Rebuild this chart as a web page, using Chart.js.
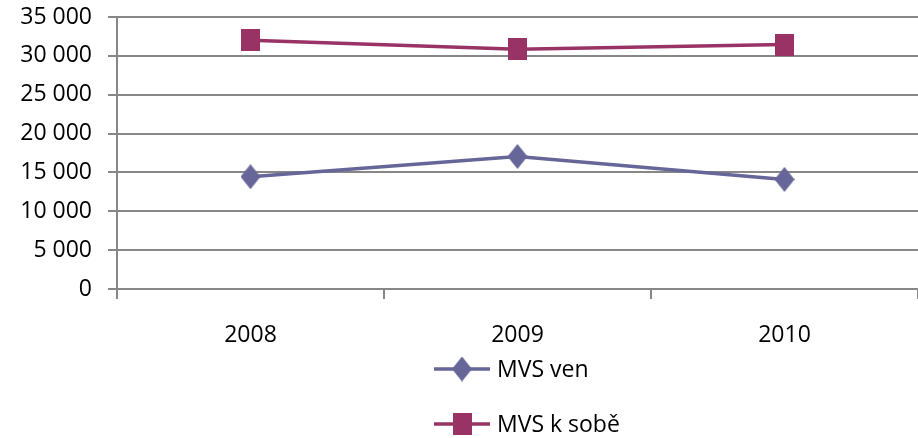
<!DOCTYPE html>
<html lang="cs">

<head>
    <meta charset="UTF-8">
    <title>MVS ven / MVS k sobě</title>
    <script src="https://cdn.jsdelivr.net/npm/chart.js"></script>
    <style>
        html, body { margin: 0; padding: 0; background: #fff; overflow: hidden; }
        .chart-box { width: 918px; height: 438px; }
    </style>
</head>

<body>
    <div class="chart-box"><canvas id="chart"></canvas></div>

    <script>
        // data
        const years = ['2008', '2009', '2010'];
        const mvsVen = [14450, 17050, 14100];
        const mvsKSobe = [32000, 30850, 31450];
        const yTicks = [0, 5000, 10000, 15000, 20000, 25000, 30000, 35000];

        const FONT = '"Open Sans", "Liberation Sans", sans-serif';
        const GRID = '#878787';

        // marker images (diamond is a bit taller than wide, like in Excel)
        function marker(kind, color, w, h) {
            const c = document.createElement('canvas');
            c.width = w; c.height = h;
            const g = c.getContext('2d');
            g.fillStyle = color;
            g.beginPath();
            if (kind === 'diamond') {
                g.moveTo(w / 2, 0); g.lineTo(w, h / 2); g.lineTo(w / 2, h); g.lineTo(0, h / 2);
            } else {
                g.rect(0, 0, w, h);
            }
            g.closePath();
            g.fill();
            return c;
        }
        const diamond = marker('diamond', '#666699', 20, 25);
        const square = marker('square', '#993366', 19, 22);

        // vertical legend under the axis
        const sideLegend = {
            id: 'sideLegend',
            afterDraw(chart) {
                const ctx = chart.ctx;
                const x0 = 434, x1 = 490;
                const rows = [369, 424];
                ctx.save();
                chart.data.datasets.forEach((ds, i) => {
                    const y = rows[i];
                    ctx.strokeStyle = ds.borderColor;
                    ctx.lineWidth = 3.5;
                    ctx.beginPath();
                    ctx.moveTo(x0, y);
                    ctx.lineTo(x1, y);
                    ctx.stroke();
                    const img = ds.pointStyle;
                    ctx.drawImage(img, (x0 + x1) / 2 - img.width / 2, y - img.height / 2);
                    ctx.fillStyle = '#000';
                    ctx.font = '23px ' + FONT;
                    ctx.textAlign = 'left';
                    ctx.textBaseline = 'middle';
                    ctx.fillText(ds.label, x1 + 7, y + 1);
                });
                ctx.restore();
            }
        };

        new Chart(document.getElementById('chart'), {
            type: 'line',
            data: {
                labels: years,
                datasets: [{
                    label: 'MVS ven',
                    data: mvsVen,
                    borderColor: '#666699',
                    backgroundColor: '#666699',
                    borderWidth: 3.5,
                    pointStyle: diamond,
                    tension: 0
                }, {
                    label: 'MVS k sobě',
                    data: mvsKSobe,
                    borderColor: '#993366',
                    backgroundColor: '#993366',
                    borderWidth: 3.5,
                    pointStyle: square,
                    tension: 0
                }]
            },
            options: {
                responsive: true,
                maintainAspectRatio: false,
                animation: false,
                layout: { autoPadding: false, padding: { top: 17, right: 0, bottom: 84, left: 0 } },
                plugins: {
                    legend: { display: false },
                    tooltip: { enabled: false }
                },
                scales: {
                    x: {
                        offset: true,
                        grid: {
                            offset: true,
                            drawOnChartArea: false,
                            drawTicks: true,
                            tickLength: 10,
                            color: GRID,
                            lineWidth: 2
                        },
                        border: { color: GRID, width: 2 },
                        ticks: {
                            color: '#000',
                            font: { family: FONT, size: 23 },
                            padding: 23,
                            maxRotation: 0
                        },
                        afterFit(scale) { scale.height = 65; }
                    },
                    y: {
                        min: 0,
                        max: 35000,
                        afterBuildTicks(scale) { scale.ticks = yTicks.map(v => ({ value: v })); },
                        grid: {
                            color: GRID,
                            lineWidth: 2,
                            tickLength: 9
                        },
                        border: { color: GRID, width: 2 },
                        ticks: {
                            color: '#000',
                            font: { family: FONT, size: 23 },
                            padding: 16,
                            callback: v => String(v).replace(/\B(?=(\d{3})+(?!\d))/g, ' ')
                        },
                        afterFit(scale) {
                            scale.width = 117;
                            scale.paddingTop = 0;
                            scale.paddingBottom = 0;
                        }
                    }
                }
            },
            plugins: [sideLegend]
        });
    </script>
</body>

</html>
